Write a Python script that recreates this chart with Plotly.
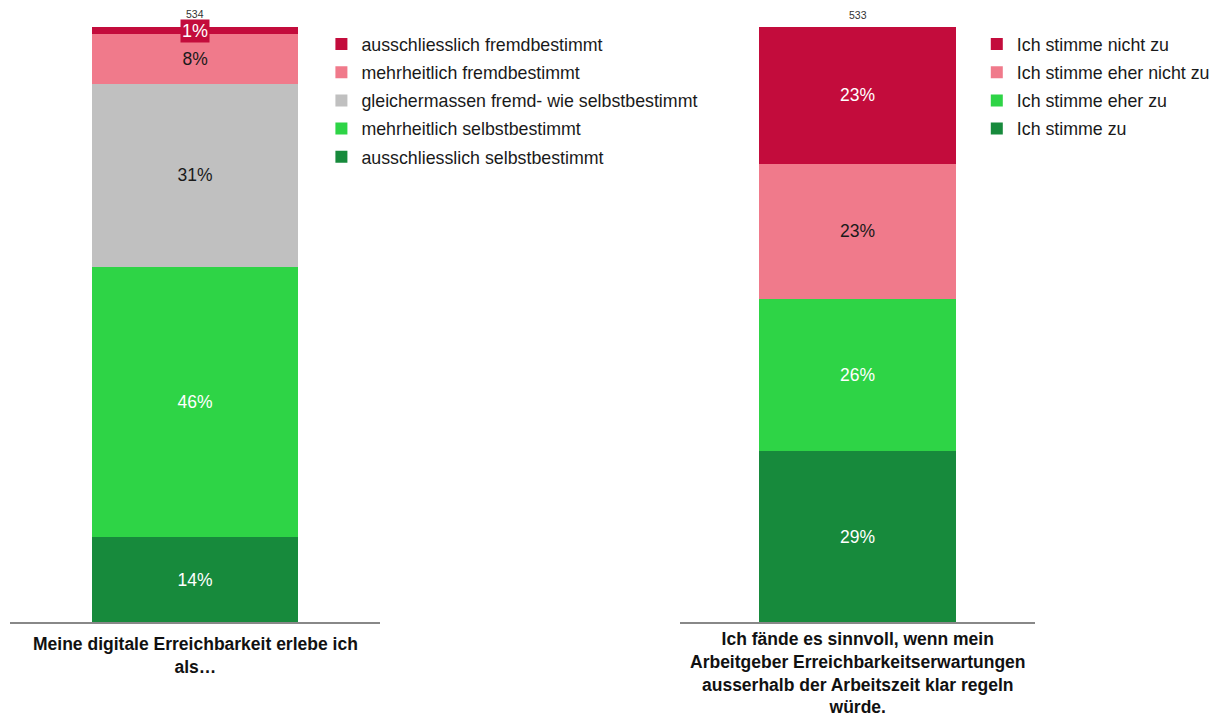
import plotly.graph_objects as go

# left question
q1 = "Meine digitale Erreichbarkeit erlebe ich<br>als…"
n1 = 534
cats1 = ["ausschliesslich selbstbestimmt", "mehrheitlich selbstbestimmt",
         "gleichermassen fremd- wie selbstbestimmt", "mehrheitlich fremdbestimmt",
         "ausschliesslich fremdbestimmt"]
vals1 = [14.2, 45.5, 30.8, 8.3, 1.2]
cols1 = ["#178A3C", "#2ED446", "#C0C0C0", "#F07A8B", "#C30C3C"]
txtcol1 = ["white", "white", "#1a1a1a", "#1a1a1a", "white"]

# right question
q2 = ("Ich fände es sinnvoll, wenn mein<br>Arbeitgeber Erreichbarkeitserwartungen"
      "<br>ausserhalb der Arbeitszeit klar regeln<br>würde.")
n2 = 533
cats2 = ["Ich stimme zu", "Ich stimme eher zu", "Ich stimme eher nicht zu", "Ich stimme nicht zu"]
vals2 = [28.7, 25.6, 22.7, 23.0]
cols2 = ["#178A3C", "#2ED446", "#F07A8B", "#C30C3C"]
txtcol2 = ["white", "white", "#1a1a1a", "white"]

FONT = "Liberation Sans, Arial, sans-serif"

fig = go.Figure()
for i, c in enumerate(cats1):
    small = vals1[i] < 3
    fig.add_trace(go.Bar(
        x=["q1"], y=[vals1[i]], name=c, marker=dict(color=cols1[i], line=dict(width=0)),
        text=None if small else [f"{vals1[i]:.0f}%"], textposition="inside",
        insidetextanchor="middle", textangle=0,
        textfont=dict(color=txtcol1[i], size=17.5, family=FONT),
        width=0.555, xaxis="x", yaxis="y", legend="legend", legendgroup=c,
        legendrank=100 - i, hoverinfo="skip"))
for i, c in enumerate(cats2):
    fig.add_trace(go.Bar(
        x=["q2"], y=[vals2[i]], name=c, marker=dict(color=cols2[i], line=dict(width=0)),
        text=[f"{vals2[i]:.0f}%"], textposition="inside",
        insidetextanchor="middle", textangle=0,
        textfont=dict(color=txtcol2[i], size=17.5, family=FONT),
        width=0.555, xaxis="x2", yaxis="y2", legend="legend2", legendgroup=c,
        legendrank=100 - i, hoverinfo="skip"))

ydom = [0.1328, 0.9732]
axis_common = dict(showline=True, linecolor="#888", linewidth=1.5, showticklabels=False,
                   ticks="", showgrid=False, zeroline=False, fixedrange=True)
yaxis_common = dict(visible=False, range=[0, 100], showgrid=False, zeroline=False)

legend_common = dict(font=dict(size=17.8, family=FONT, color="#1a1a1a"),
                     bgcolor="rgba(0,0,0,0)", tracegroupgap=2, yanchor="top",
                     xanchor="left", traceorder="grouped",
                     itemclick=False, itemdoubleclick=False)

fig.update_layout(
    width=1211, height=708, barmode="stack",
    paper_bgcolor="white", plot_bgcolor="white",
    margin=dict(l=0, r=0, t=0, b=0),
    font=dict(family=FONT),
    xaxis=dict(domain=[0.0017, 0.3072], **axis_common),
    yaxis=dict(domain=ydom, **yaxis_common),
    xaxis2=dict(domain=[0.5549, 0.8481], anchor="y2", **axis_common),
    yaxis2=dict(domain=ydom, anchor="x2", **yaxis_common),
    legend=dict(x=0.2588, y=0.9745, **legend_common),
    legend2=dict(x=0.800, y=0.9745, **legend_common),
    uniformtext=dict(mode=False),
    showlegend=True,
)

# small top-segment label with background box
fig.add_annotation(x="q1", y=100 - vals1[-1] / 2, xref="x", yref="y",
                   text=f"{vals1[-1]:.0f}%", showarrow=False,
                   font=dict(color="white", size=18, family=FONT),
                   bgcolor=cols1[-1], borderpad=1)

# sample sizes
fig.add_annotation(x="q1", y=sum(vals1), xref="x", yref="y", text=str(n1), showarrow=False,
                   yanchor="bottom", yshift=5, font=dict(size=10.5, color="#333", family=FONT))
fig.add_annotation(x="q2", y=sum(vals2), xref="x2", yref="y2", text=str(n2), showarrow=False,
                   yanchor="bottom", yshift=3.5, font=dict(size=10.5, color="#333", family=FONT))

# question texts under the axes
fig.add_annotation(x=0.1545, y=0.1183, xref="paper", yref="paper", text=f"<b>{q1}</b>",
                   showarrow=False, xanchor="center", yanchor="top", align="center",
                   font=dict(size=17.5, color="#111", family=FONT))
fig.add_annotation(x=0.7015, y=0.1255, xref="paper", yref="paper", text=f"<b>{q2}</b>",
                   showarrow=False, xanchor="center", yanchor="top", align="center",
                   font=dict(size=17.5, color="#111", family=FONT))

fig.write_html("out.html")
